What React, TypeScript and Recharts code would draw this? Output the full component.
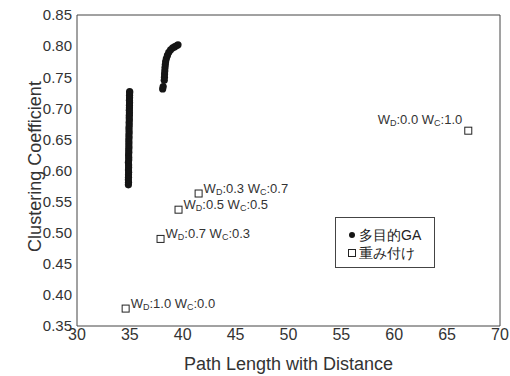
import { ScatterChart, Scatter, XAxis, YAxis, Legend, LabelList } from 'recharts'

// 多目的GA の解 (x: Path Length with Distance, y: Clustering Coefficient)
const gaColumn = [
  { x: 34.86, y: 0.577 }, { x: 34.87, y: 0.581 }, { x: 34.86, y: 0.585 }, { x: 34.87, y: 0.589 },
  { x: 34.87, y: 0.593 }, { x: 34.88, y: 0.597 }, { x: 34.87, y: 0.601 }, { x: 34.88, y: 0.605 },
  { x: 34.88, y: 0.609 }, { x: 34.86, y: 0.613 }, { x: 34.89, y: 0.617 }, { x: 34.89, y: 0.621 },
  { x: 34.88, y: 0.625 }, { x: 34.9, y: 0.629 }, { x: 34.89, y: 0.633 }, { x: 34.91, y: 0.637 },
  { x: 34.9, y: 0.641 }, { x: 34.91, y: 0.645 }, { x: 34.9, y: 0.649 }, { x: 34.92, y: 0.653 },
  { x: 34.91, y: 0.657 }, { x: 34.93, y: 0.661 }, { x: 34.92, y: 0.665 }, { x: 34.92, y: 0.669 },
  { x: 34.94, y: 0.673 }, { x: 34.93, y: 0.677 }, { x: 34.95, y: 0.681 }, { x: 34.94, y: 0.685 },
  { x: 34.95, y: 0.689 }, { x: 34.96, y: 0.693 }, { x: 34.95, y: 0.697 }, { x: 34.96, y: 0.701 },
  { x: 34.96, y: 0.705 }, { x: 34.97, y: 0.709 }, { x: 34.96, y: 0.713 }, { x: 34.97, y: 0.717 },
  { x: 34.97, y: 0.721 }, { x: 34.98, y: 0.725 }, { x: 34.98, y: 0.727 },
]

const gaCurve = [
  { x: 38.1, y: 0.731 }, { x: 38.15, y: 0.735 }, { x: 38.25, y: 0.745 }, { x: 38.27, y: 0.75 },
  { x: 38.28, y: 0.755 }, { x: 38.3, y: 0.76 }, { x: 38.32, y: 0.765 }, { x: 38.35, y: 0.77 },
  { x: 38.38, y: 0.775 }, { x: 38.45, y: 0.78 }, { x: 38.55, y: 0.785 }, { x: 38.68, y: 0.79 },
  { x: 38.85, y: 0.794 }, { x: 39.05, y: 0.797 }, { x: 39.25, y: 0.799 }, { x: 39.45, y: 0.801 },
  { x: 39.55, y: 0.802 },
]

// 重み付け (W_D, W_C)
const weighted = [
  { x: 34.6, y: 0.378, wd: '1.0', wc: '0.0' },
  { x: 37.9, y: 0.49, wd: '0.7', wc: '0.3' },
  { x: 39.6, y: 0.537, wd: '0.5', wc: '0.5' },
  { x: 41.5, y: 0.563, wd: '0.3', wc: '0.7' },
  { x: 67.0, y: 0.664, wd: '0.0', wc: '1.0' },
]

const xMajor = [30, 35, 40, 45, 50, 55, 60, 65, 70]
const xMinor = [32.5, 37.5, 42.5, 47.5, 52.5, 57.5, 62.5, 67.5]
const yMajor = [0.35, 0.4, 0.45, 0.5, 0.55, 0.6, 0.65, 0.7, 0.75, 0.8, 0.85]
const yMinor = [0.375, 0.425, 0.475, 0.525, 0.575, 0.625, 0.675, 0.725, 0.775, 0.825]

const xAll = [...xMajor, ...xMinor]
const yAll = [...yMajor, ...yMinor]
const gaPoints = [...gaColumn, ...gaCurve]

const FONT = '"Liberation Sans", Arial, sans-serif'
const INK = '#333'

const Dot = (p: any) => <circle cx={p.cx} cy={p.cy} r={3.6} fill="#151515" />
const Box = (p: any) => (
  <rect x={p.cx - 3.5} y={p.cy - 3.5} width={7} height={7} fill="#fff" stroke="#222" strokeWidth={1} />
)

const WeightLabel = (p: any) => {
  const d = weighted[p.index]
  const left = d.x > 60
  const x = left ? p.x + p.width / 2 - 6 : p.x + p.width / 2 + 5
  const y = p.y + p.height / 2 + (left ? -7 : -1)
  return (
    <text x={x} y={y} fontSize={13} fill={INK} fontFamily={FONT} textAnchor={left ? 'end' : 'start'}>
      <tspan>W</tspan>
      <tspan fontSize={9} dy={2}>D</tspan>
      <tspan dy={-2}>{`:${d.wd} W`}</tspan>
      <tspan fontSize={9} dy={2}>C</tspan>
      <tspan dy={-2}>{`:${d.wc}`}</tspan>
    </text>
  )
}

const LegendBox = () => (
  <div style={{ fontFamily: FONT, fontSize: 14, color: '#222', padding: '8px 0 0 12px', lineHeight: '18px' }}>
    <div>
      <svg width={8} height={10} style={{ marginRight: 3 }}><circle cx={4} cy={5} r={3} fill="#151515" /></svg>
      多目的GA
    </div>
    <div>
      <svg width={8} height={10} style={{ marginRight: 3 }}><rect x={0.5} y={1.5} width={7} height={7} fill="#fff" stroke="#222" /></svg>
      重み付け
    </div>
  </div>
)

export default function App() {
  return (
    <div style={{ position: 'absolute', left: 0, top: 0, background: '#fff' }}>
      <ScatterChart width={510} height={376} margin={{ top: 15, right: 10, bottom: 0, left: 0 }}>
        <XAxis
          xAxisId="b" type="number" dataKey="x" domain={[30, 70]} ticks={xMajor} allowDataOverflow
          height={50} tickSize={0} tickMargin={3} stroke="#444"
          tick={{ fontSize: 16, fill: INK, fontFamily: FONT }}
          label={{ value: 'Path Length with Distance', position: 'insideBottom', offset: 6, fontSize: 18, fill: INK, fontFamily: FONT }}
        />
        <XAxis xAxisId="bMaj" type="number" orientation="bottom" mirror domain={[30, 70]} ticks={xMajor} allowDataOverflow tick={false} tickSize={5} axisLine={false} stroke="#444" />
        <XAxis xAxisId="bMin" type="number" orientation="bottom" mirror domain={[30, 70]} ticks={xMinor} allowDataOverflow tick={false} tickSize={3} axisLine={false} stroke="#444" />
        <XAxis xAxisId="t" type="number" orientation="top" mirror domain={[30, 70]} ticks={xAll} allowDataOverflow tick={false} tickSize={2} stroke="#444" />
        <YAxis
          yAxisId="l" type="number" dataKey="y" domain={[0.35, 0.85]} ticks={yMajor} allowDataOverflow
          width={77} tickSize={0} tickMargin={5} stroke="#444"
          tickFormatter={(v: number) => v.toFixed(2)}
          tick={{ fontSize: 15, fill: INK, fontFamily: FONT }}
          label={{
            content: (lp: any) => {
              const vb = lp.viewBox
              const cx = 35
              const cy = vb.y + vb.height / 2 - 4
              return (
                <text x={cx} y={cy} transform={`rotate(-90 ${cx} ${cy})`} textAnchor="middle" dominantBaseline="central" fontSize={18} fill={INK} fontFamily={FONT}>
                  Clustering Coefficient
                </text>
              )
            },
          }}
        />
        <YAxis yAxisId="lMaj" type="number" orientation="left" mirror domain={[0.35, 0.85]} ticks={yMajor} allowDataOverflow tick={false} tickSize={5} axisLine={false} stroke="#444" />
        <YAxis yAxisId="lMin" type="number" orientation="left" mirror domain={[0.35, 0.85]} ticks={yMinor} allowDataOverflow tick={false} tickSize={3} axisLine={false} stroke="#444" />
        <YAxis yAxisId="r" type="number" orientation="right" mirror domain={[0.35, 0.85]} ticks={yAll} allowDataOverflow tick={false} tickSize={2} stroke="#444" />
        <Legend
          layout="vertical" align="center" verticalAlign="middle"
          wrapperStyle={{ left: 335, top: 217, width: 100, height: 51, border: '1px solid #444', background: '#fff', boxSizing: 'border-box' }}
          content={() => <LegendBox />}
        />
        <Scatter name="多目的GA" data={gaPoints} xAxisId="b" yAxisId="l" shape={Dot} isAnimationActive={false} />
        <Scatter name="重み付け" data={weighted} xAxisId="b" yAxisId="l" shape={Box} isAnimationActive={false}>
          <LabelList dataKey="wd" content={WeightLabel} />
        </Scatter>
      </ScatterChart>
    </div>
  )
}
